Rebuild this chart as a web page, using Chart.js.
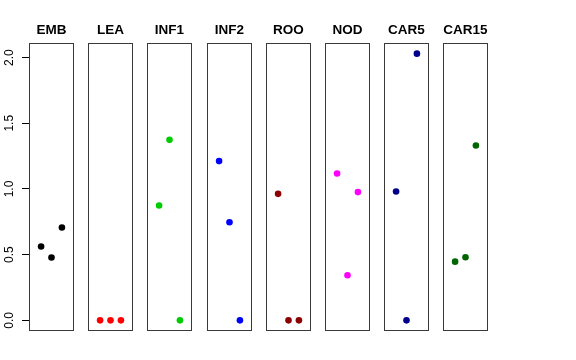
<!DOCTYPE html>
<html><head><meta charset="utf-8">
<script src="https://cdn.jsdelivr.net/npm/chart.js@4/dist/chart.umd.min.js"></script>
<style>
html,body{margin:0;padding:0;background:#fff;}
#wrap{position:relative;width:576px;height:360px;overflow:hidden;background:#fff;}
canvas{position:absolute;top:0;}
</style></head><body><div id="wrap"></div>
<script>
// ---- data ----
const panels = ['EMB','LEA','INF1','INF2','ROO','NOD','CAR5','CAR15'];
const xPositions = [1, 2, 3];
const EMB   = [0.562, 0.478, 0.707];
const LEA   = [0, 0, 0];
const INF1  = [0.874, 1.374, 0];
const INF2  = [1.212, 0.747, 0];
const ROO   = [0.963, 0, 0];
const NOD   = [1.118, 0.343, 0.976];
const CAR5  = [0.981, 0, 2.030];
const CAR15 = [0.447, 0.480, 1.331];
const panelValues = [EMB, LEA, INF1, INF2, ROO, NOD, CAR5, CAR15];
const panelColors = ['#000000','#FF0000','#00CD00','#0000FF','#8B0000','#FF00FF','#00008B','#006400'];
const yTicks = [0, 0.5, 1.0, 1.5, 2.0];

// ---- layout ----
const boxLefts = [29, 88, 147, 207, 266, 325, 384, 443];
const boxW = 45, side = 7, H = 360;
const FONT = '"Liberation Sans", Arial, Helvetica, sans-serif';

const boxPlugin = {
  id: 'panelBox',
  beforeDatasetsDraw(chart) {
    const {ctx, chartArea: a} = chart;
    ctx.save();
    ctx.strokeStyle = '#3a3a3a';
    ctx.lineWidth = 1;
    ctx.strokeRect(a.left + 0.5, a.top + 0.5, a.right - a.left - 1, a.bottom - a.top - 1);
    ctx.restore();
  }
};
const titlePlugin = {
  id: 'panelTitle',
  afterDraw(chart, args, opts) {
    const {ctx, chartArea: a} = chart;
    ctx.save();
    ctx.font = 'bold 13.5px ' + FONT;
    ctx.fillStyle = '#000';
    ctx.textAlign = 'center';
    ctx.textBaseline = 'middle';
    ctx.fillText(opts.text, (a.left + a.right) / 2, 30);
    ctx.restore();
  }
};

const wrap = document.getElementById('wrap');
panels.forEach((name, i) => {
  const first = i === 0;
  const cv = document.createElement('canvas');
  const left = first ? 0 : boxLefts[i] - side;
  const width = first ? boxLefts[0] + boxW + side : boxW + 2 * side;
  cv.width = width; cv.height = H;
  cv.style.left = left + 'px';
  cv.style.width = width + 'px'; cv.style.height = H + 'px';
  wrap.appendChild(cv);

  const yScale = {
    type: 'linear', min: -0.081, max: 2.111, display: first,
    grid: {display: true, drawOnChartArea: false, drawTicks: true, tickLength: 7, color: '#000', lineWidth: 1},
    border: {display: false},
    ticks: {minRotation: 90, maxRotation: 90, crossAlign: 'center', padding: 4, color: '#000',
            font: {size: 12, family: FONT}, callback: v => Number(v).toFixed(1)}
  };
  if (first) {
    yScale.afterBuildTicks = s => { s.ticks = yTicks.map(v => ({value: v})); };
    yScale.afterFit = s => { s.width = boxLefts[0]; };
  }

  new Chart(cv, {
    type: 'scatter',
    data: {
      datasets: [{
        data: xPositions.map((x, j) => ({x: x, y: panelValues[i][j]})),
        backgroundColor: panelColors[i],
        borderColor: panelColors[i],
        borderWidth: 0,
        pointRadius: 3.3,
        pointHoverRadius: 3.3
      }]
    },
    options: {
      responsive: false,
      animation: false,
      events: [],
      layout: {padding: {top: 43, bottom: 29, left: first ? 0 : side, right: side}},
      plugins: {legend: {display: false}, tooltip: {enabled: false}, title: {display: false},
                panelTitle: {text: name}},
      scales: {
        x: {type: 'linear', min: -0.16, max: 4.16, display: false},
        y: yScale
      }
    },
    plugins: [boxPlugin, titlePlugin]
  });
});
</script>
</body></html>
